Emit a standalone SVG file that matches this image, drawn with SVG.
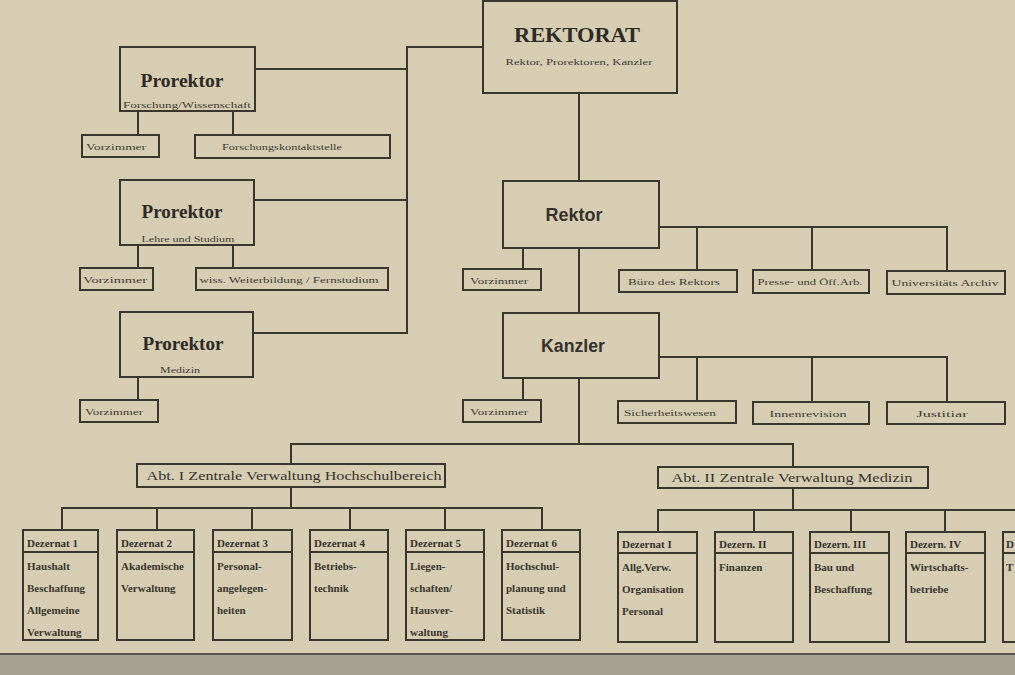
<svg xmlns="http://www.w3.org/2000/svg" width="1015" height="675" viewBox="0 0 1015 675">
<style>
.box{fill:none;stroke:#3b362d;stroke-width:2}
.ln{fill:none;stroke:#3b362d;stroke-width:2}
.big{font-family:"Liberation Serif",serif;font-weight:bold;fill:#2e2a24}
.sans{font-family:"Liberation Sans",Arial,sans-serif;font-weight:bold;fill:#36322b}
.sm{font-family:"Liberation Serif",serif;font-size:9px;fill:#3e3a32;text-anchor:middle}
.hd{font-family:"Liberation Serif",serif;font-weight:bold;font-size:11px;fill:#36322b}
.bd{font-family:"Liberation Serif",serif;font-weight:bold;font-size:11px;fill:#3a362e}
.abt{font-family:"Liberation Serif",serif;font-size:12px;fill:#36322b;text-anchor:middle}
</style>
<rect x="0" y="0" width="1015" height="675" fill="#d6cdb3"/>
<rect x="0" y="654" width="1015" height="21" fill="#a6a292"/>
<line x1="0" y1="654" x2="1015" y2="654" stroke="#5a564c" stroke-width="2"/>

<g id="connectors">
<polyline class="ln" points="484,47 407,47 407,333 253,333"/>
<line class="ln" x1="255" y1="69" x2="407" y2="69"/>
<line class="ln" x1="254" y1="200" x2="407" y2="200"/>
<line class="ln" x1="138" y1="111" x2="138" y2="135"/>
<line class="ln" x1="233" y1="111" x2="233" y2="135"/>
<line class="ln" x1="138" y1="245" x2="138" y2="268"/>
<line class="ln" x1="233" y1="245" x2="233" y2="268"/>
<line class="ln" x1="138" y1="377" x2="138" y2="400"/>
<line class="ln" x1="579" y1="93" x2="579" y2="181"/>
<line class="ln" x1="579" y1="248" x2="579" y2="313"/>
<line class="ln" x1="579" y1="378" x2="579" y2="444"/>
<line class="ln" x1="523" y1="248" x2="523" y2="269"/>
<polyline class="ln" points="659,227 947,227 947,271"/>
<line class="ln" x1="697" y1="227" x2="697" y2="270"/>
<line class="ln" x1="812" y1="227" x2="812" y2="270"/>
<line class="ln" x1="523" y1="378" x2="523" y2="400"/>
<polyline class="ln" points="659,357 947,357 947,402"/>
<line class="ln" x1="697" y1="357" x2="697" y2="401"/>
<line class="ln" x1="812" y1="357" x2="812" y2="402"/>
<polyline class="ln" points="291,464 291,444 793,444 793,467"/>
<line class="ln" x1="291" y1="488" x2="291" y2="508"/>
<polyline class="ln" points="62,530 62,508 542,508 542,530"/>
<line class="ln" x1="157" y1="508" x2="157" y2="530"/>
<line class="ln" x1="252" y1="508" x2="252" y2="530"/>
<line class="ln" x1="350" y1="508" x2="350" y2="530"/>
<line class="ln" x1="445" y1="508" x2="445" y2="530"/>
<line class="ln" x1="793" y1="488" x2="793" y2="510"/>
<polyline class="ln" points="658,532 658,510 1015,510"/>
<line class="ln" x1="754" y1="510" x2="754" y2="532"/>
<line class="ln" x1="851" y1="510" x2="851" y2="532"/>
<line class="ln" x1="945" y1="510" x2="945" y2="532"/>
</g>

<g id="rektorat">
<rect class="box" x="483" y="1" width="194" height="92"/>
<text class="big" x="577" y="42" font-size="21" text-anchor="middle" textLength="126" lengthAdjust="spacingAndGlyphs">REKTORAT</text>
<text class="sm" x="579" y="65" textLength="147" lengthAdjust="spacingAndGlyphs">Rektor, Prorektoren, Kanzler</text>
</g>

<g id="prorektor1">
<rect class="box" x="120" y="47" width="135" height="64"/>
<text class="big" x="182" y="87" font-size="19" text-anchor="middle" textLength="83" lengthAdjust="spacingAndGlyphs">Prorektor</text>
<text class="sm" x="187" y="108" textLength="128" lengthAdjust="spacingAndGlyphs">Forschung/Wissenschaft</text>
</g>
<g id="vorzimmer-p1"><rect class="box" x="82" y="135" width="77" height="22"/><text class="sm" x="116" y="150" textLength="60" lengthAdjust="spacingAndGlyphs">Vorzimmer</text></g>
<g id="forschungskontaktstelle"><rect class="box" x="195" y="135" width="195" height="23"/><text class="sm" x="282" y="150" textLength="120" lengthAdjust="spacingAndGlyphs">Forschungskontaktstelle</text></g>

<g id="prorektor2">
<rect class="box" x="120" y="180" width="134" height="65"/>
<text class="big" x="182" y="218" font-size="19" text-anchor="middle" textLength="81" lengthAdjust="spacingAndGlyphs">Prorektor</text>
<text class="sm" x="188" y="242" textLength="93" lengthAdjust="spacingAndGlyphs">Lehre und Studium</text>
</g>
<g id="vorzimmer-p2"><rect class="box" x="80" y="268" width="73" height="22"/><text class="sm" x="115" y="283" textLength="64" lengthAdjust="spacingAndGlyphs">Vorzimmer</text></g>
<g id="weiterbildung"><rect class="box" x="196" y="268" width="192" height="22"/><text class="sm" x="289" y="283" textLength="179" lengthAdjust="spacingAndGlyphs">wiss. Weiterbildung / Fernstudium</text></g>

<g id="prorektor3">
<rect class="box" x="120" y="312" width="133" height="65"/>
<text class="big" x="183" y="350" font-size="19" text-anchor="middle" textLength="81" lengthAdjust="spacingAndGlyphs">Prorektor</text>
<text class="sm" x="180" y="373" textLength="40" lengthAdjust="spacingAndGlyphs">Medizin</text>
</g>
<g id="vorzimmer-p3"><rect class="box" x="80" y="400" width="78" height="22"/><text class="sm" x="114" y="415" textLength="58" lengthAdjust="spacingAndGlyphs">Vorzimmer</text></g>

<g id="rektor">
<rect class="box" x="503" y="181" width="156" height="67"/>
<text class="sans" x="574" y="221" font-size="18" text-anchor="middle" textLength="57" lengthAdjust="spacingAndGlyphs">Rektor</text>
</g>
<g id="vorzimmer-r"><rect class="box" x="463" y="269" width="78" height="21"/><text class="sm" x="499" y="284" textLength="58" lengthAdjust="spacingAndGlyphs">Vorzimmer</text></g>
<g id="buero"><rect class="box" x="619" y="270" width="118" height="22"/><text class="sm" x="674" y="285" textLength="92" lengthAdjust="spacingAndGlyphs">Büro des Rektors</text></g>
<g id="presse"><rect class="box" x="753" y="270" width="116" height="23"/><text class="sm" x="810" y="285" textLength="105" lengthAdjust="spacingAndGlyphs">Presse- und Öff.Arb.</text></g>
<g id="archiv"><rect class="box" x="887" y="271" width="118" height="23"/><text class="sm" x="945" y="286" textLength="107" lengthAdjust="spacingAndGlyphs">Universitäts Archiv</text></g>

<g id="kanzler">
<rect class="box" x="503" y="313" width="156" height="65"/>
<text class="sans" x="573" y="352" font-size="18" text-anchor="middle" textLength="64" lengthAdjust="spacingAndGlyphs">Kanzler</text>
</g>
<g id="vorzimmer-k"><rect class="box" x="463" y="400" width="78" height="22"/><text class="sm" x="499" y="415" textLength="58" lengthAdjust="spacingAndGlyphs">Vorzimmer</text></g>
<g id="sicherheit"><rect class="box" x="618" y="401" width="118" height="22"/><text class="sm" x="670" y="416" textLength="92" lengthAdjust="spacingAndGlyphs">Sicherheitswesen</text></g>
<g id="innenrevision"><rect class="box" x="753" y="402" width="116" height="22"/><text class="sm" x="808" y="417" textLength="77" lengthAdjust="spacingAndGlyphs">Innenrevision</text></g>
<g id="justitiar"><rect class="box" x="887" y="402" width="118" height="22"/><text class="sm" x="942" y="417" textLength="51" lengthAdjust="spacingAndGlyphs">Justitiar</text></g>

<g id="abt1"><rect class="box" x="137" y="464" width="308" height="23"/><text class="abt" x="294" y="480" textLength="295" lengthAdjust="spacingAndGlyphs">Abt. I Zentrale Verwaltung Hochschulbereich</text></g>
<g id="abt2"><rect class="box" x="658" y="467" width="270" height="21"/><text class="abt" x="792" y="482" textLength="241" lengthAdjust="spacingAndGlyphs">Abt. II  Zentrale Verwaltung Medizin</text></g>

<g id="dez1"><rect class="box" x="23" y="530" width="75" height="110"/><line class="ln" x1="23" y1="552" x2="98" y2="552"/><text class="hd" x="27" y="547">Dezernat 1</text><text class="bd" x="27" y="570">Haushalt</text><text class="bd" x="27" y="592">Beschaffung</text><text class="bd" x="27" y="614">Allgemeine</text><text class="bd" x="27" y="636">Verwaltung</text></g>
<g id="dez2"><rect class="box" x="117" y="530" width="77" height="110"/><line class="ln" x1="117" y1="552" x2="194" y2="552"/><text class="hd" x="121" y="547">Dezernat 2</text><text class="bd" x="121" y="570">Akademische</text><text class="bd" x="121" y="592">Verwaltung</text></g>
<g id="dez3"><rect class="box" x="213" y="530" width="79" height="110"/><line class="ln" x1="213" y1="552" x2="292" y2="552"/><text class="hd" x="217" y="547">Dezernat 3</text><text class="bd" x="217" y="570">Personal-</text><text class="bd" x="217" y="592">angelegen-</text><text class="bd" x="217" y="614">heiten</text></g>
<g id="dez4"><rect class="box" x="310" y="530" width="78" height="110"/><line class="ln" x1="310" y1="552" x2="388" y2="552"/><text class="hd" x="314" y="547">Dezernat 4</text><text class="bd" x="314" y="570">Betriebs-</text><text class="bd" x="314" y="592">technik</text></g>
<g id="dez5"><rect class="box" x="406" y="530" width="78" height="110"/><line class="ln" x1="406" y1="552" x2="484" y2="552"/><text class="hd" x="410" y="547">Dezernat 5</text><text class="bd" x="410" y="570">Liegen-</text><text class="bd" x="410" y="592">schaften/</text><text class="bd" x="410" y="614">Hausver-</text><text class="bd" x="410" y="636">waltung</text></g>
<g id="dez6"><rect class="box" x="502" y="530" width="78" height="110"/><line class="ln" x1="502" y1="552" x2="580" y2="552"/><text class="hd" x="506" y="547">Dezernat 6</text><text class="bd" x="506" y="570">Hochschul-</text><text class="bd" x="506" y="592">planung und</text><text class="bd" x="506" y="614">Statistik</text></g>

<g id="dezI"><rect class="box" x="618" y="532" width="79" height="110"/><line class="ln" x1="618" y1="553" x2="697" y2="553"/><text class="hd" x="622" y="548">Dezernat I</text><text class="bd" x="622" y="571">Allg.Verw.</text><text class="bd" x="622" y="593">Organisation</text><text class="bd" x="622" y="615">Personal</text></g>
<g id="dezII"><rect class="box" x="715" y="532" width="78" height="110"/><line class="ln" x1="715" y1="553" x2="793" y2="553"/><text class="hd" x="719" y="548">Dezern. II</text><text class="bd" x="719" y="571">Finanzen</text></g>
<g id="dezIII"><rect class="box" x="810" y="532" width="79" height="110"/><line class="ln" x1="810" y1="553" x2="889" y2="553"/><text class="hd" x="814" y="548">Dezern. III</text><text class="bd" x="814" y="571">Bau und</text><text class="bd" x="814" y="593">Beschaffung</text></g>
<g id="dezIV"><rect class="box" x="906" y="532" width="79" height="110"/><line class="ln" x1="906" y1="553" x2="985" y2="553"/><text class="hd" x="910" y="548">Dezern. IV</text><text class="bd" x="910" y="571">Wirtschafts-</text><text class="bd" x="910" y="593">betriebe</text></g>
<g id="dezV"><rect class="box" x="1003" y="532" width="79" height="110"/><line class="ln" x1="1003" y1="553" x2="1082" y2="553"/><text class="hd" x="1006" y="548">D</text><text class="bd" x="1006" y="571">T</text></g>
</svg>
